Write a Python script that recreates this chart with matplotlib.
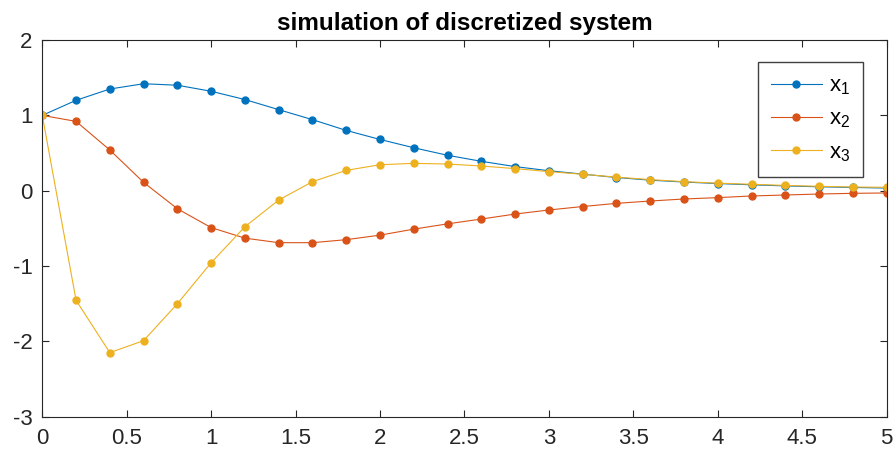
import numpy as np
import matplotlib
matplotlib.use('Agg')
import matplotlib.pyplot as plt

plt.rcParams['font.family'] = ['Liberation Sans', 'DejaVu Sans']
plt.rcParams['mathtext.fontset'] = 'custom'
plt.rcParams['mathtext.rm'] = 'Liberation Sans'
plt.rcParams['axes.unicode_minus'] = False

# time steps (dt = 0.2)
t = [0.0, 0.2, 0.4, 0.6, 0.8, 1.0, 1.2, 1.4, 1.6, 1.8, 2.0, 2.2, 2.4,
     2.6, 2.8, 3.0, 3.2, 3.4, 3.6, 3.8, 4.0, 4.2, 4.4, 4.6, 4.8, 5.0]

x1 = [1.00, 1.20, 1.35, 1.42, 1.40, 1.32, 1.21, 1.076, 0.943, 0.80, 0.68, 0.57, 0.47,
      0.39, 0.32, 0.265, 0.22, 0.175, 0.14, 0.115, 0.095, 0.078, 0.064, 0.052, 0.043, 0.035]
x2 = [1.00, 0.92, 0.54, 0.11, -0.24, -0.49, -0.63, -0.69, -0.69, -0.65, -0.59, -0.51, -0.44,
      -0.376, -0.31, -0.256, -0.21, -0.168, -0.137, -0.11, -0.092, -0.07, -0.057, -0.044, -0.035, -0.03]
x3 = [1.00, -1.455, -2.15, -1.99, -1.50, -0.956, -0.478, -0.124, 0.12, 0.27, 0.345, 0.363, 0.354,
      0.328, 0.293, 0.253, 0.218, 0.18, 0.147, 0.12, 0.10, 0.085, 0.07, 0.058, 0.049, 0.045]

labels = ['x$_1$', 'x$_2$', 'x$_3$']
colors = ['#0072BD', '#D95319', '#EDB120']

fig = plt.figure(figsize=(8.94, 4.55), dpi=100)
ax = fig.add_axes([0.0473, 0.0842, 0.9445, 0.8278])

for y, lab, c in zip([x1, x2, x3], labels, colors):
    ax.plot(t, y, '-o', color=c, lw=0.8, ms=5, label=lab)

ax.set_xlim(0, 5)
ax.set_ylim(-3, 2)
ax.set_xticks(np.arange(0, 5.01, 0.5))
ax.set_xticklabels(['0', '0.5', '1', '1.5', '2', '2.5', '3', '3.5', '4', '4.5', '5'])
ax.set_yticks(range(-3, 3))
ax.tick_params(direction='in', top=True, right=True, length=5, width=0.8,
               labelsize=16, colors='#262626')
ax.tick_params(axis='x', pad=8.5)
ax.tick_params(axis='y', pad=7)
for s in ax.spines.values():
    s.set_color('#262626')
    s.set_linewidth(0.8)

ax.set_title('simulation of discretized system', fontsize=17.5, fontweight='bold', pad=7)

leg = ax.legend(loc='upper right', bbox_to_anchor=(863.3 / 894, 1 - 62.3 / 455),
                bbox_transform=fig.transFigure, borderaxespad=0, fontsize=16,
                fancybox=False, framealpha=1, edgecolor='#404040',
                handlelength=2.3, borderpad=0.6, labelspacing=0.52, handletextpad=0.3)
leg.get_frame().set_linewidth(1.0)

fig.savefig('out.png', dpi=100)
